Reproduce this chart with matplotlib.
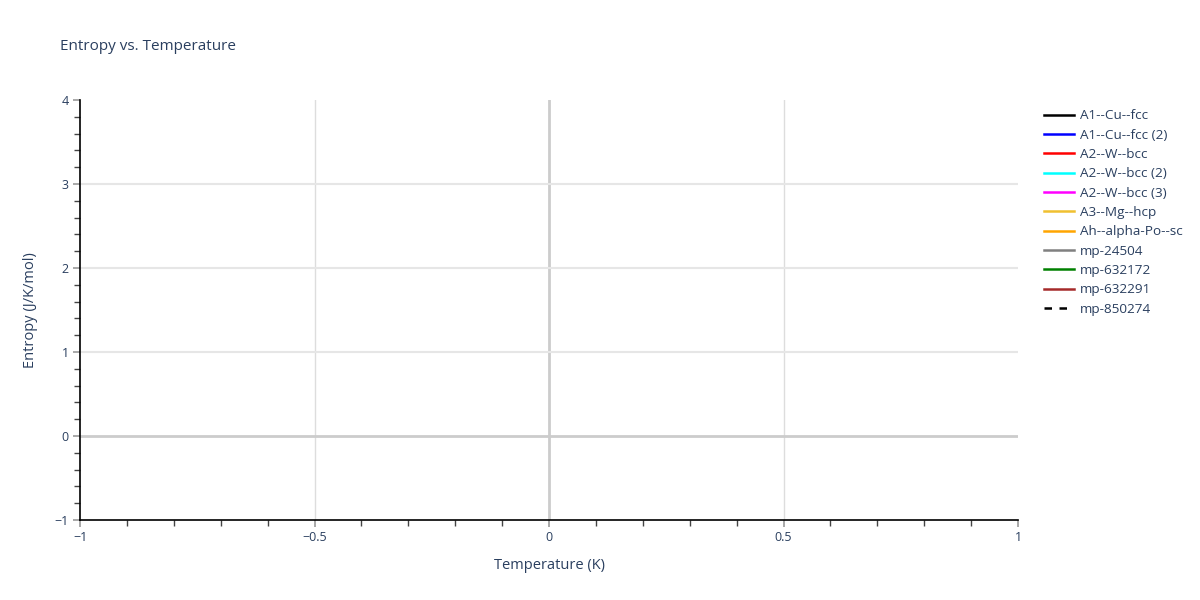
import matplotlib
matplotlib.use("Agg")
import matplotlib.pyplot as plt
from matplotlib.ticker import MultipleLocator

# series shown in the legend (no data points in the reference)
series_names = [
    "A1--Cu--fcc", "A1--Cu--fcc (2)", "A2--W--bcc", "A2--W--bcc (2)",
    "A2--W--bcc (3)", "A3--Mg--hcp", "Ah--alpha-Po--sc", "mp-24504",
    "mp-632172", "mp-632291", "mp-850274",
]
series_colors = [
    "black", "blue", "red", "cyan", "magenta", "#f0c030", "orange",
    "gray", "green", "brown", "black",
]
series_dashes = ["-"] * 10 + [(0, (3, 3))]
temperature = []
entropy = []

text_color = "#2a3f5f"
plt.rcParams["font.family"] = ["Open Sans", "DejaVu Sans"]

fig = plt.figure(figsize=(12, 6), dpi=100)
ax = fig.add_axes([80 / 1200, 80 / 600, 938 / 1200, 420 / 600])

for name, color, ls in zip(series_names, series_colors, series_dashes):
    ax.plot(temperature, entropy, color=color, linestyle=ls, linewidth=1.8, label=name)

ax.set_xlim(-1, 1)
ax.set_ylim(-1, 4)
ax.xaxis.set_major_locator(MultipleLocator(0.5))
ax.xaxis.set_minor_locator(MultipleLocator(0.1))
ax.yaxis.set_major_locator(MultipleLocator(1))
ax.yaxis.set_minor_locator(MultipleLocator(0.2))

ax.xaxis.set_major_formatter(lambda v, p: f"{v:g}".replace("-", "\u2212"))
ax.yaxis.set_major_formatter(lambda v, p: f"{v:g}".replace("-", "\u2212"))

# grid + zero lines
for v in (-0.5, 0.5):
    ax.axvline(v, color="#dddddd", linewidth=1, zorder=0)
ax.axvline(0, color="#cccccc", linewidth=2, zorder=0)
for v in (1, 2, 3):
    ax.axhline(v, color="#e6e6e6", linewidth=1.5, zorder=0)
ax.axhline(0, color="#cccccc", linewidth=2, zorder=0)

for side in ("top", "right"):
    ax.spines[side].set_visible(False)
for side in ("left", "bottom"):
    ax.spines[side].set_color("black")
    ax.spines[side].set_linewidth(1.2)

ax.tick_params(which="major", direction="out", length=5, width=1.2,
               color="#999999", labelcolor=text_color, labelsize=9, pad=3)
ax.tick_params(which="minor", direction="out", length=4, width=1, color="#444444")

ax.set_xlabel("Temperature (K)", color=text_color, fontsize=10.5, labelpad=10)
ax.set_ylabel("Entropy (J/K/mol)", color=text_color, fontsize=10.5, labelpad=12)

fig.text(60 / 1200, 1 - 46 / 600, "Entropy vs. Temperature", color=text_color,
         fontsize=11, va="center", ha="left")

leg = ax.legend(loc="upper left", bbox_to_anchor=(1039 / 1200, 1 - 104 / 600),
                bbox_transform=fig.transFigure, frameon=False, fontsize=9.7,
                labelspacing=0.47, handlelength=2.2, handletextpad=0.45,
                borderaxespad=0)
for t in leg.get_texts():
    t.set_color(text_color)

fig.savefig("out.png", dpi=100)
